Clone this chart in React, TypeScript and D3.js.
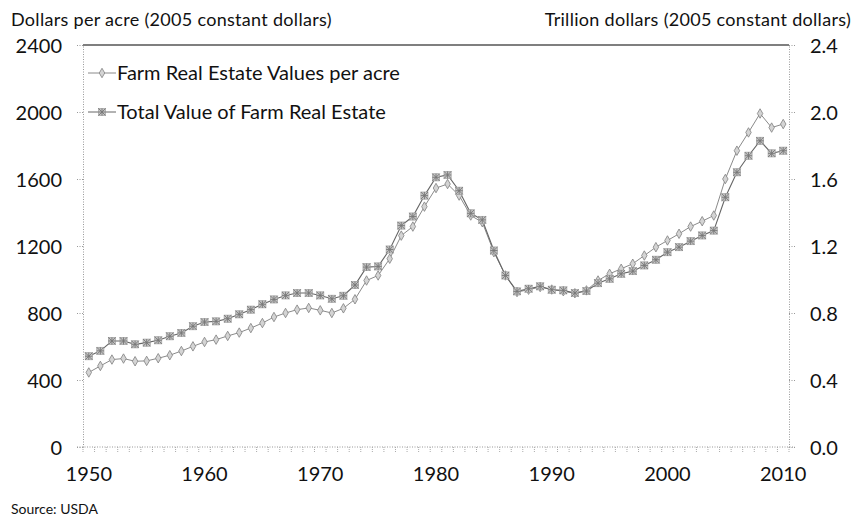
import React, { useRef, useEffect } from 'react';
import * as d3 from 'd3';

// years shown on the category axis
const years = [
  1950, 1951, 1952, 1953, 1954, 1955, 1956, 1957, 1958, 1959,
  1960, 1961, 1962, 1963, 1964, 1965, 1966, 1967, 1968, 1969,
  1970, 1971, 1972, 1973, 1974, 1975, 1976, 1977, 1978, 1979,
  1980, 1981, 1982, 1983, 1984, 1985, 1986, 1987, 1988, 1989,
  1990, 1991, 1992, 1993, 1994, 1995, 1996, 1997, 1998, 1999,
  2000, 2001, 2002, 2003, 2004, 2005, 2006, 2007, 2008, 2009,
  2010,
];

// dollars per acre, 2005 constant dollars
const valuePerAcre = [
  445, 484, 522, 528, 512, 514, 530, 548, 573, 601,
  627, 641, 663, 683, 710, 740, 776, 800, 820, 830,
  816, 800, 828, 882, 994, 1024, 1124, 1262, 1316, 1435,
  1546, 1570, 1501, 1382, 1342, 1163, 1024, 925, 939, 955,
  940, 930, 918, 935, 994, 1034, 1064, 1094, 1143, 1193,
  1233, 1273, 1316, 1348, 1382, 1600, 1769, 1878, 1991, 1907,
  1928,
];

// trillion dollars, 2005 constant dollars
const totalValue = [
  0.542, 0.574, 0.633, 0.633, 0.613, 0.623, 0.637, 0.661, 0.681, 0.721,
  0.746, 0.750, 0.766, 0.792, 0.820, 0.852, 0.881, 0.905, 0.919, 0.919,
  0.905, 0.885, 0.903, 0.967, 1.074, 1.078, 1.179, 1.322, 1.376, 1.501,
  1.610, 1.624, 1.530, 1.395, 1.356, 1.173, 1.024, 0.929, 0.945, 0.959,
  0.939, 0.935, 0.919, 0.931, 0.978, 1.004, 1.034, 1.050, 1.084, 1.118,
  1.163, 1.193, 1.229, 1.263, 1.292, 1.491, 1.640, 1.739, 1.828, 1.753,
  1.769,
];

const leftTicks = [0, 400, 800, 1200, 1600, 2000, 2400];
const rightTicks = [0, 0.4, 0.8, 1.2, 1.6, 2.0, 2.4];
const yearLabels = [1950, 1960, 1970, 1980, 1990, 2000, 2010];

const seriesNames = ['Farm Real Estate Values per acre', 'Total Value of Farm Real Estate'];

const FONT = "Lato, 'Open Sans', sans-serif";

const App = () => {
  const svgRef = useRef<SVGSVGElement>(null);
  const W = 860;
  const H = 519;
  const plot = { left: 83, right: 789, top: 45, bottom: 447 };

  useEffect(() => {
    const svg = d3.select(svgRef.current);
    svg.selectAll('*').remove();

    const x = d3.scalePoint<number>()
      .domain(years)
      .range([plot.left, plot.right])
      .padding(0.5);
    const step = x.step();

    const yL = d3.scaleLinear().domain([0, 2400]).range([plot.bottom, plot.top]);
    const yR = d3.scaleLinear().domain([0, 2.4]).range([plot.bottom, plot.top]);

    // axis titles
    svg.append('text')
      .attr('x', 11).attr('y', 26)
      .style('font-family', FONT).style('font-size', '18px').style('letter-spacing', '0.3px').style('fill', '#111')
      .text('Dollars per acre (2005 constant dollars)');
    svg.append('text')
      .attr('x', 851).attr('y', 26)
      .attr('text-anchor', 'end')
      .style('font-family', FONT).style('font-size', '18px').style('letter-spacing', '0.3px').style('fill', '#111')
      .text('Trillion dollars (2005 constant dollars)');

    // top border
    svg.append('line')
      .attr('x1', plot.left).attr('x2', plot.right)
      .attr('y1', plot.top).attr('y2', plot.top)
      .attr('stroke', '#555').attr('stroke-width', 1.5);

    // left axis
    const gL = svg.append('g').attr('transform', `translate(${plot.left},0)`)
      .call(d3.axisLeft(yL).tickValues(leftTicks).tickSize(6).tickSizeOuter(0).tickPadding(15).tickFormat(d3.format('d')));
    // right axis
    const gR = svg.append('g').attr('transform', `translate(${plot.right},0)`)
      .call(d3.axisRight(yR).tickValues(rightTicks).tickSize(6).tickSizeOuter(0).tickPadding(15).tickFormat(d3.format('.1f')));

    [gL, gR].forEach(g => {
      g.select('.domain').attr('stroke', '#999').attr('stroke-dasharray', '1,1.5');
      g.selectAll('.tick line').attr('stroke', '#999').attr('stroke-dasharray', '1,1.5');
      g.selectAll('.tick text')
        .style('font-family', FONT).style('font-size', '20px').style('fill', '#111')
        .attr('dy', '0.35em');
    });

    // bottom axis: dotted line with a tick at every year boundary
    svg.append('line')
      .attr('x1', plot.left - 6).attr('x2', plot.right + 6)
      .attr('y1', plot.bottom).attr('y2', plot.bottom)
      .attr('stroke', '#999').attr('stroke-dasharray', '1,1.5');
    svg.append('g').selectAll('line')
      .data(years.concat([years[years.length - 1] + 1]))
      .join('line')
      .attr('x1', (d, i) => i < years.length ? x(d)! - step / 2 : plot.right)
      .attr('x2', (d, i) => i < years.length ? x(d)! - step / 2 : plot.right)
      .attr('y1', plot.bottom).attr('y2', plot.bottom + 5)
      .attr('stroke', '#aaa').attr('stroke-dasharray', '1,1');

    svg.append('g').selectAll('text')
      .data(yearLabels)
      .join('text')
      .attr('x', d => x(d)!)
      .attr('y', plot.bottom + 34)
      .attr('text-anchor', 'middle')
      .style('font-family', FONT).style('font-size', '20px').style('fill', '#111')
      .text(d => d);

    // source
    svg.append('text')
      .attr('x', 11).attr('y', 514)
      .style('font-family', FONT).style('font-size', '14px').style('fill', '#111')
      .text('Source: USDA');

    // lines
    const acreLine = d3.line<number>()
      .x((d, i) => x(years[i])!)
      .y(d => yL(d));
    const totalLine = d3.line<number>()
      .x((d, i) => x(years[i])!)
      .y(d => yR(d));

    svg.append('path')
      .attr('d', acreLine(valuePerAcre))
      .attr('fill', 'none').attr('stroke', '#8a8a8a').attr('stroke-width', 1);
    svg.append('path')
      .attr('d', totalLine(totalValue))
      .attr('fill', 'none').attr('stroke', '#666').attr('stroke-width', 1.1);

    const diamond = d3.symbol().type(d3.symbolDiamond).size(26);
    const drawDiamond = (g: any, cx: number, cy: number) => {
      g.append('path')
        .attr('transform', `translate(${cx},${cy})`)
        .attr('d', diamond())
        .attr('fill', '#d4d4d4').attr('stroke', '#808080').attr('stroke-width', 0.8);
    };
    const drawStar = (g: any, cx: number, cy: number) => {
      const s = 3.6;
      g.append('rect')
        .attr('x', cx - s).attr('y', cy - s)
        .attr('width', 2 * s).attr('height', 2 * s)
        .attr('fill', '#c4c4c4').attr('stroke', '#999').attr('stroke-width', 0.6);
      g.append('path')
        .attr('d', `M${cx - s},${cy - s}L${cx + s},${cy + s}M${cx + s},${cy - s}L${cx - s},${cy + s}M${cx - s},${cy}L${cx + s},${cy}M${cx},${cy - s}L${cx},${cy + s}`)
        .attr('stroke', '#777').attr('stroke-width', 0.9);
    };

    const gDia = svg.append('g');
    valuePerAcre.forEach((v, i) => drawDiamond(gDia, x(years[i])!, yL(v)));
    const gStar = svg.append('g');
    totalValue.forEach((v, i) => drawStar(gStar, x(years[i])!, yR(v)));

    // legend
    const legend = svg.append('g');
    const legendY = [73, 112];
    seriesNames.forEach((name, i) => {
      const ly = legendY[i];
      legend.append('line')
        .attr('x1', 88).attr('x2', 116).attr('y1', ly).attr('y2', ly)
        .attr('stroke', i === 0 ? '#8a8a8a' : '#666').attr('stroke-width', 1);
      if (i === 0) drawDiamond(legend, 102, ly);
      else drawStar(legend, 102, ly);
      legend.append('text')
        .attr('x', 117).attr('y', ly)
        .attr('dy', '0.35em')
        .style('font-family', FONT).style('font-size', '20px').style('fill', '#111')
        .text(name);
    });
  }, []);

  return (
    <svg
      ref={svgRef}
      width={W}
      height={H}
      style={{ position: 'absolute', left: 0, top: 0, background: '#fff' }}
    />
  );
};

export default App;
